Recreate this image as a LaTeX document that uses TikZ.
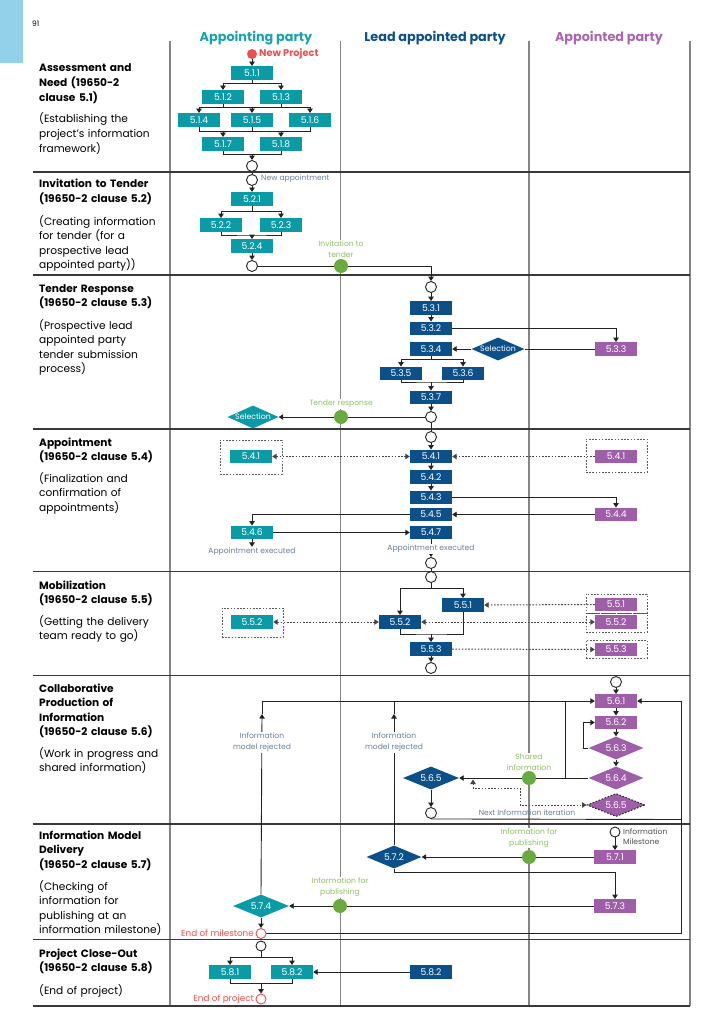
\documentclass[tikz,border=0pt]{standalone}
\usepackage{fontspec}
\setmainfont{Poppins}
\usetikzlibrary{arrows.meta,shapes.geometric,calc}
\pgfdeclarelayer{grid}\pgfdeclarelayer{back}
\pgfsetlayers{grid,back,main}
\definecolor{cteal}{HTML}{0A9BA6}
\definecolor{clead}{HTML}{0C508A}
\definecolor{cpurp}{HTML}{9E5FA8}
\definecolor{cgreen}{HTML}{6AAA40}
\definecolor{cglab}{HTML}{8EC063}
\definecolor{cred}{HTML}{EE4E4E}
\definecolor{cgrayt}{HTML}{6B7F99}
\definecolor{cline}{HTML}{232323}
\definecolor{ccol}{HTML}{858585}
\definecolor{cside}{HTML}{93D1EA}
\definecolor{chteal}{HTML}{1AA2AD}
\definecolor{chpurp}{HTML}{A866B0}
\newcommand\boxf{\fontsize{9.2}{10}\selectfont}
\newcommand\self{\fontsize{7.8}{9}\selectfont}
\newcommand\smf{\fontsize{7.6}{11}\selectfont}
\newcommand\titf{\fontsize{10.6}{14.6}\selectfont\bfseries}
\newcommand\desf{\fontsize{10.6}{14.6}\selectfont}
\newcommand\headf{\fontsize{12.8}{14}\selectfont\bfseries}
\tikzset{tri/.tip={Triangle[width=5.5pt,length=4.5pt]}}
\begin{document}
\begin{tikzpicture}[x=1pt,y=-1pt,
  bx/.style={minimum width=42pt,minimum height=13.5pt,inner sep=0pt,text=white,font=\boxf},
  tb/.style={bx,fill=cteal}, lb/.style={bx,fill=clead}, pb/.style={bx,fill=cpurp},
  dia/.style={diamond,aspect=2.4,inner sep=0pt,minimum width=55pt,minimum height=23pt,text=white,font=\boxf},
  ev/.style={circle,draw=cline,line width=0.9pt,fill=white,minimum size=11pt,inner sep=0pt},
  rev/.style={circle,draw=cred,line width=0.9pt,fill=white,minimum size=11pt,inner sep=0pt},
  gdot/.style={circle,fill=cgreen,minimum size=14pt,inner sep=0pt},
  conn/.style={draw=cline,line width=0.9pt},
  arr/.style={conn,-tri},
  dotl/.style={draw=cline!85,line width=1pt,dash pattern=on 1.6pt off 1.6pt},
  dframe/.style={draw=cline!75,line width=0.9pt,dash pattern=on 1.6pt off 1.6pt,inner sep=0pt},
  colline/.style={draw=ccol,line width=1.8pt},
  rowline/.style={draw=cline!90,line width=1.1pt},
  glab/.style={text=cglab,font=\smf,align=center,fill=white,inner sep=1pt},
  slab/.style={text=cgrayt,font=\smf,align=center,fill=white,inner sep=1pt},
  rlab/.style={text=cred,font=\fontsize{8.8}{10}\selectfont,inner sep=1pt},
  rowt/.style={font=\titf,align=left,text width=140pt,inner sep=0pt},
  rowd/.style={font=\desf,align=left,text width=140pt,inner sep=0pt},
  head/.style={font=\headf,inner sep=0pt}
]
\useasboundingbox (0,0) rectangle (707,1019);
% ---------- grid ----------
\begin{pgfonlayer}{grid}
\fill[cside] (0,0) rectangle (23,63);
\foreach \x in {170,340.5,529,690} \draw[colline] (\x,41) -- (\x,1006);
\foreach \y in {172,275,429,571.5,675.5,824,939.5,1006} \draw[rowline] (33,\y) -- (690,\y);
\end{pgfonlayer}
\node[font=\fontsize{7.5}{8}\selectfont,anchor=base west,inner sep=0pt] (pg) at (32,27) {91};
\node[head,text=chteal,anchor=base] (h1) at (256,42) {Appointing party};
\node[head,text=clead,anchor=base] (h2) at (435,42) {Lead appointed party};
\node[head,text=chpurp,anchor=base] (h3) at (609,42) {Appointed party};
% ---------- row labels ----------
\node[rowt,anchor=base west] (rt1) at (39,72) {Assessment and\\Need (19650-2\\clause 5.1)};
\node[rowd,anchor=base west] (rd1) at (39,123) {(Establishing the\\project’s information\\framework)};
\node[rowt,anchor=base west] (rt2) at (39,188) {Invitation to Tender\\(19650-2 clause 5.2)};
\node[rowd,anchor=base west] (rd2) at (39,225) {(Creating information\\for tender (for a\\prospective lead\\appointed party))};
\node[rowt,anchor=base west] (rt3) at (39,292) {Tender Response\\(19650-2 clause 5.3)};
\node[rowd,anchor=base west] (rd3) at (39,329) {(Prospective lead\\appointed party\\tender submission\\process)};
\node[rowt,anchor=base west] (rt4) at (39,446) {Appointment\\(19650-2 clause 5.4)};
\node[rowd,anchor=base west] (rd4) at (39,482) {(Finalization and\\confirmation of\\appointments)};
\node[rowt,anchor=base west] (rt5) at (39,589) {Mobilization\\(19650-2 clause 5.5)};
\node[rowd,anchor=base west] (rd5) at (39,625) {(Getting the delivery\\team ready to go)};
\node[rowt,anchor=base west] (rt6) at (39,692) {Collaborative\\Production of\\Information\\(19650-2 clause 5.6)};
\node[rowd,anchor=base west] (rd6) at (39,757) {(Work in progress and\\shared information)};
\node[rowt,anchor=base west] (rt7) at (39,839) {Information Model\\Delivery\\(19650-2 clause 5.7)};
\node[rowd,anchor=base west] (rd7) at (39,890) {(Checking of\\information for\\publishing at an\\information milestone)};
\node[rowt,anchor=base west] (rt8) at (39,957) {Project Close-Out\\(19650-2 clause 5.8)};
\node[rowd,anchor=base west] (rd8) at (39,994) {(End of project)};
% ---------- row 1 ----------
\node[circle,fill=cred,minimum size=10pt,inner sep=0pt] (np) at (252,54) {};
\node[text=cred,font=\fontsize{9.8}{10}\selectfont\bfseries,anchor=west,inner sep=0pt] (npl) at (259,54) {New Project};
\node[tb] (n511) at (252,73) {5.1.1};
\node[tb] (n512) at (223,97) {5.1.2};
\node[tb] (n513) at (281,97) {5.1.3};
\node[tb] (n514) at (199,120) {5.1.4};
\node[tb] (n515) at (252,120) {5.1.5};
\node[tb] (n516) at (310,120) {5.1.6};
\node[tb] (n517) at (223,144) {5.1.7};
\node[tb] (n518) at (281,144) {5.1.8};
\node[ev] (c1e) at (252,166) {};
\coordinate (j1) at (252,83);
\coordinate (j2) at (252,107.5);
\coordinate (j3) at (252,131);
\coordinate (j4) at (252,154.5);
% ---------- row 2 ----------
\node[ev] (c2s) at (252,180) {};
\node[text=cgrayt,font=\smf,anchor=west,inner sep=0pt] (nal) at (261,179) {New appointment};
\node[tb] (n521) at (252,199) {5.2.1};
\node[tb] (n522) at (221,225) {5.2.2};
\node[tb] (n523) at (281,225) {5.2.3};
\node[tb] (n524) at (252,246) {5.2.4};
\node[ev] (c2e) at (252,266) {};
\coordinate (k1) at (252,211.5);
\coordinate (k2) at (252,235);
\node[glab] (gl1) at (341,249.5) {Invitation to\\tender};
\node[gdot] (g1) at (341,266) {};
% ---------- row 3 ----------
\node[ev] (c31) at (431,287) {};
\node[lb] (n531) at (431,308) {5.3.1};
\node[lb] (n532) at (431,328.5) {5.3.2};
\node[lb] (n534) at (431,349) {5.3.4};
\node[lb] (n535) at (401,373.5) {5.3.5};
\node[lb] (n536) at (463,373.5) {5.3.6};
\node[lb] (n537) at (431,397.5) {5.3.7};
\node[ev] (c32) at (431,417) {};
\node[pb] (p533) at (616,349) {5.3.3};
\node[dia,fill=clead,minimum width=53pt,font=\self] (sel1) at (498,349) {Selection};
\node[dia,fill=cteal,minimum width=51pt,font=\self] (sel2) at (253,417) {Selection};
\node[glab] (gl2) at (341,404) {Tender response};
\node[gdot] (g2) at (341,417) {};
\coordinate (m1) at (431,359);
\coordinate (m2) at (431,382);
% ---------- row 4 ----------
\node[ev] (c41) at (431,437) {};
\node[lb] (l541) at (431,456.5) {5.4.1};
\node[lb] (l542) at (431,477) {5.4.2};
\node[lb] (l543) at (431,497.5) {5.4.3};
\node[lb] (l545) at (431,514.5) {5.4.5};
\node[lb] (l547) at (431,532.5) {5.4.7};
\node[ev] (c42) at (431,563) {};
\node[dframe,minimum width=62pt,minimum height=34pt] (f1) at (251,457) {};
\node[tb] (t541) at (251,456.5) {5.4.1};
\node[dframe,minimum width=61pt,minimum height=33pt] (f2) at (616.5,455.5) {};
\node[pb] (p541) at (616,456.5) {5.4.1};
\node[pb] (p544) at (616,514.5) {5.4.4};
\node[tb] (t546) at (252,532.5) {5.4.6};
\node[slab] (ae1) at (252,552) {Appointment executed};
\node[slab] (ae2) at (431,549) {Appointment executed};
% ---------- row 5 ----------
\node[ev] (c51) at (431,577) {};
\node[lb] (l551) at (463,605) {5.5.1};
\node[lb] (l552) at (400,622) {5.5.2};
\node[lb] (l553) at (431,649) {5.5.3};
\node[ev] (c52) at (431,668) {};
\node[dframe,minimum width=61pt,minimum height=29pt] (f3) at (252.5,622.5) {};
\node[tb] (t552) at (252,622) {5.5.2};
\node[dframe,minimum width=61pt,minimum height=19pt] (f4) at (616.5,603.5) {};
\node[dframe,minimum width=61pt,minimum height=19pt] (f5) at (616.5,622.5) {};
\node[dframe,minimum width=61pt,minimum height=18pt] (f6) at (616.5,649) {};
\node[pb] (p551) at (616,604.5) {5.5.1};
\node[pb] (p552) at (616,622) {5.5.2};
\node[pb] (p553) at (616,649.5) {5.5.3};
\coordinate (q1) at (431,588);
\coordinate (q2) at (431,634);
% ---------- row 6 ----------
\node[ev] (c61) at (616,682) {};
\node[pb] (p561) at (616,701) {5.6.1};
\node[pb] (p562) at (616,722.5) {5.6.2};
\node[dia,fill=cpurp] (d563) at (616,748) {5.6.3};
\node[dia,fill=cpurp] (d564) at (616,778) {5.6.4};
\node[dia,fill=cpurp,draw=cline,line width=1pt,dash pattern=on 1.6pt off 1.6pt,minimum width=58pt] (d565p) at (616,805) {5.6.5};
\node[dia,fill=clead,minimum width=56pt] (d565) at (431,778) {5.6.5};
\node[ev] (c62) at (431,813) {};
\node[glab] (gl3) at (529,762.5) {Shared\\information};
\node[gdot] (g3) at (529,778) {};
\node[slab] (imr1) at (262,742.5) {Information\\model rejected};
\node[slab] (imr2) at (394,742.5) {Information\\model rejected};
\node[text=cgrayt,font=\smf,inner sep=0pt] (nii) at (527,812.3) {Next Information iteration};
\coordinate (s1) at (583,748);
\coordinate (r1) at (262,701);
\coordinate (r2) at (394,701);
\coordinate (r3) at (565,778);
\coordinate (r4) at (681,701);
\coordinate (r5) at (681,819.5);
\coordinate (r6) at (681,933.5);
\coordinate (a1) at (262,714);
\coordinate (a2) at (394,714);
\coordinate (v1) at (473,779.5);
\coordinate (v2) at (473,788);
\coordinate (v3) at (520,788);
% ---------- row 7 ----------
\node[ev,minimum size=10pt] (c71) at (615,832) {};
\node[text=cline!80,font=\fontsize{7.6}{10}\selectfont,align=left,anchor=west,inner sep=0pt] (iml) at (623,837) {Information\\Milestone};
\node[pb] (p571) at (615,857) {5.7.1};
\node[dia,fill=clead] (d572) at (394,857) {5.7.2};
\node[glab] (gl4) at (529,838) {Information for\\publishing};
\node[gdot] (g4) at (529,857) {};
\node[pb] (p573) at (615,906) {5.7.3};
\node[dia,fill=cteal,minimum width=56pt] (d574) at (261,906) {5.7.4};
\node[glab] (gl5) at (340,887.5) {Information for\\publishing};
\node[gdot] (g5) at (340,906) {};
\node[rev,minimum size=10pt] (eom) at (261,933.5) {};
\node[rlab,anchor=east] (eoml) at (255,933) {End of milestone};
\coordinate (w1) at (394,872);
% ---------- row 8 ----------
\node[ev,minimum size=10pt] (c81) at (261,946) {};
\node[tb] (n581) at (230,972) {5.8.1};
\node[tb] (n582) at (292,972) {5.8.2};
\node[lb] (l582) at (431,972) {5.8.2};
\node[rev,minimum size=10pt] (eop) at (261,999) {};
\node[rlab,anchor=east] (eopl) at (255,999) {End of project};
\coordinate (y1) at (261,957);
\coordinate (y2) at (261,983);
% ---------- connectors ----------
\begin{pgfonlayer}{back}
% row1
\draw[arr] (np) -- (n511);
\draw[conn] (n511.south) -- (j1);
\draw[arr] (j1) -| (n512.north);
\draw[arr] (j1) -| (n513.north);
\draw[conn] (n512.south) |- (j2) -| (n513.south);
\draw[arr] (j2) -| (n514.north);
\draw[arr] (j2) -- (n515.north);
\draw[arr] (j2) -| (n516.north);
\draw[conn] (n514.south) |- (j3) -| (n516.south);
\draw[conn] (n515.south) -- (j3);
\draw[arr] (j3) -| (n517.north);
\draw[arr] (j3) -| (n518.north);
\draw[conn] (n517.south) |- (j4) -| (n518.south);
\draw[arr] (j4) -- (c1e.north);
\draw[conn] (c1e) -- (c2s);
% row2
\draw[arr] (c2s) -- (n521);
\draw[conn] (n521.south) -- (k1);
\draw[arr] (k1) -| (n522.north);
\draw[arr] (k1) -| (n523.north);
\draw[conn] (n522.south) |- (k2) -| (n523.south);
\draw[arr] (k2) -- (n524.north);
\draw[arr] (n524) -- (c2e);
\draw[arr] (c2e.east) -| (c31.north);
% row3
\draw[arr] (c31) -- (n531);
\draw[arr] (n531) -- (n532);
\draw[arr] (n532.east) -| (p533.north);
\draw[conn] (p533.west) -- (sel1.east);
\draw[arr] (sel1.west) -- (n534.east);
\draw[conn] (n534.south) -- (m1);
\draw[arr] (m1) -| (n535.north);
\draw[arr] (m1) -| (n536.north);
\draw[conn] (n535.south) |- (m2) -| (n536.south);
\draw[arr] (m2) -- (n537.north);
\draw[arr] (n537) -- (c32);
\draw[arr] (c32.west) -- (sel2.east);
\draw[conn] (c32) -- (c41);
% row4
\draw[arr] (c41) -- (l541);
\draw[arr] (l541) -- (l542);
\draw[arr] (l542) -- (l543);
\draw[dotl,tri-tri] (t541.east) -- (l541.west);
\draw[dotl,-tri] (p541.west) -- (l541.east);
\draw[arr] (l543.east) -| (p544.north);
\draw[arr] (p544.west) -- (l545.east);
\draw[arr] (l545.west) -| (t546.north);
\draw[arr] (t546.east) -- (l547.west);
\draw[arr] (t546.south) -- (ae1.north);
\draw[arr] (l547.south) -- (c42.north);
\draw[conn] (c42) -- (c51);
% row5
\draw[conn] (c51.south) -- (q1);
\draw[arr] (q1) -| (l551.north);
\draw[arr] (q1) -| (l552.north);
\draw[conn] (l552.south) |- (q2) -| (l551.south);
\draw[arr] (q2) -- (l553.north);
\draw[arr] (l553) -- (c52);
\draw[dotl,-tri] (p551.west) -- (l551.east);
\draw[dotl,tri-tri] (l552.east) -- (p552.west);
\draw[dotl,tri-tri] (t552.east) -- (l552.west);
\draw[dotl,-tri] (l553.east) -- (p553.west);
% row6
\draw[arr] (c61) -- (p561);
\draw[arr] (p561) -- (p562);
\draw[arr] (p562) -- (d563);
\draw[arr] (d563) -- (d564);
\draw[arr] (d563.west) -- (s1) |- (p562.west);
\draw[arr] (d564.west) -- (d565.east);
\draw[arr] (r3) |- (p561.west);
\draw[arr] (d565.south) -- (c62.north);
\draw[conn] (c62.south) -- (r5);
\draw[arr] (eom.east) -- (r6) -- (r4) -- (p561.east);
\draw[arr] (d574.north) -- (a1);
\draw[conn] (a1) -- (r1) -- (r3 |- r1);
\draw[arr] (d572.north) -- (a2);
\draw[conn] (a2) -- (r2);
\draw[dotl,tri-tri] (v1) -- (v2) -- (v3) |- (d565p.west);
% row7
\draw[arr] (c71) -- (p571);
\draw[arr] (p571.west) -- (d572.east);
\draw[arr] (d572.south) -- (w1) -| (p573.north);
\draw[arr] (p573.west) -- (d574.east);
\draw[arr] (d574.south) -- (eom.north);
% row8
\draw[conn] (c81.south) -- (y1);
\draw[arr] (y1) -| (n581.north);
\draw[arr] (y1) -| (n582.north);
\draw[conn] (n581.south) |- (y2) -| (n582.south);
\draw[arr] (y2) -- (eop.north);
\draw[arr] (l582.west) -- (n582.east);
\end{pgfonlayer}
\end{tikzpicture}
\end{document}
